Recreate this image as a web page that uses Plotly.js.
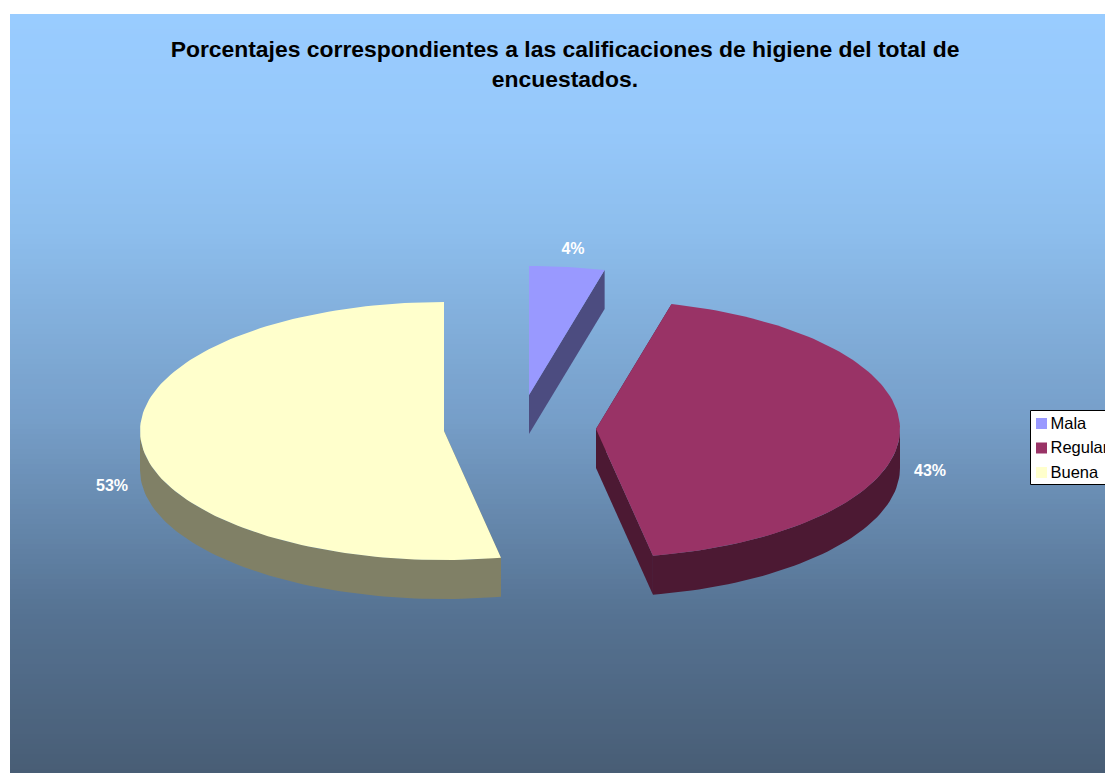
<!DOCTYPE html>
<html>
<head>
<meta charset="utf-8">
<script src="https://cdn.plot.ly/plotly-3.0.1.min.js"></script>
<style>html,body{margin:0;padding:0;background:#fff;overflow:hidden}</style>
</head>
<body>
<div id="chart" style="width:1105px;height:773px"></div>
<script>
// Survey shares
const categories = ['Mala', 'Regular', 'Buena'];
const values = [4, 43, 53];

// Slice colours: top face and side wall
const topColors = ['#9999FF', '#993366', '#FFFFCC'];
const wallColors = ['#4C4C80', '#4C1933', '#808066'];

// Pie geometry, in axis units (the axes run 1:1 with the page)
const centers = [[529, 395], [596, 429], [444, 431]];
const radiusX = 304;
const radiusY = 129;
const depth = 39;
const valueLabelPos = [[573, 250], [930, 472], [112, 487]];
const legendRows = [423.5, 448, 472.5];
const legendTextRows = [424.5, 449, 473.5];

// Vertical background ramp: [y, r, g, b]
const ramp = [
  [14, 153, 204, 255],
  [130, 150, 200, 250],
  [230, 141, 190, 237],
  [420, 118, 158, 200],
  [610, 86, 115, 147],
  [773, 72, 93, 117]
];

function rampColor(y) {
  let i = 0;
  while (i < ramp.length - 2 && y > ramp[i + 1][0]) i++;
  const a = ramp[i], b = ramp[i + 1];
  const t = (y - a[0]) / (b[0] - a[0]);
  const c = [1, 2, 3].map(k => Math.round(a[k] + (b[k] - a[k]) * t));
  return `rgb(${c[0]},${c[1]},${c[2]})`;
}

const shapes = [];
for (let y = 14; y < 773; y += 5) {
  shapes.push({
    type: 'rect', layer: 'below', xref: 'x', yref: 'y',
    x0: 10, x1: 1105, y0: y, y1: Math.min(y + 5, 773),
    fillcolor: rampColor(y + 2.5), line: {width: 0}
  });
}
// Legend frame
shapes.push({
  type: 'rect', layer: 'below', xref: 'x', yref: 'y',
  x0: 1030.5, x1: 1115, y0: 410.5, y1: 484.5,
  fillcolor: '#FFFFFF', line: {color: '#000000', width: 1}
});

// Point on the rim of a slice; angle is clockwise from twelve o'clock
function rim(c, deg, drop) {
  const a = deg * Math.PI / 180;
  return [c[0] + radiusX * Math.sin(a), c[1] - radiusY * Math.cos(a) + drop];
}

function arcPoints(c, from, to, drop) {
  const pts = [];
  const n = Math.max(2, Math.ceil(Math.abs(to - from) / 1.5));
  for (let i = 0; i <= n; i++) pts.push(rim(c, from + (to - from) * i / n, drop));
  return pts;
}

function polygon(pts, color) {
  return {
    type: 'scatter', mode: 'lines', fill: 'toself', fillcolor: color,
    x: pts.map(p => p[0]), y: pts.map(p => p[1]),
    line: {width: 0, color: color}, hoverinfo: 'skip', showlegend: false
  };
}

const total = values.reduce((s, v) => s + v, 0);
const traces = [];
let cursor = 0;
values.forEach((v, i) => {
  const from = cursor * 360 / total;
  const to = (cursor + v) * 360 / total;
  cursor += v;
  const c = centers[i];

  // Cut faces running from the hub to the rim
  [from, to].forEach(deg => {
    const r = rim(c, deg, 0);
    const rd = rim(c, deg, depth);
    traces.push(polygon([c, r, rd, [c[0], c[1] + depth]], wallColors[i]));
  });

  // Outer wall: only the front half of the rim faces the viewer
  const wallFrom = Math.max(from, 90);
  const wallTo = Math.min(to, 270);
  if (wallTo > wallFrom) {
    const upper = arcPoints(c, wallFrom, wallTo, 0);
    const lower = arcPoints(c, wallFrom, wallTo, depth).reverse();
    traces.push(polygon(upper.concat(lower), wallColors[i]));
  }

  // Top face
  traces.push(polygon([c].concat(arcPoints(c, from, to, 0)), topColors[i]));
});

// Percentage labels
traces.push({
  type: 'scatter', mode: 'text',
  x: valueLabelPos.map(p => p[0]), y: valueLabelPos.map(p => p[1]),
  text: values.map(v => v + '%'),
  textposition: 'middle center',
  textfont: {family: 'Liberation Sans, Arial, sans-serif', size: 16, color: '#FFFFFF', weight: 'bold'},
  hoverinfo: 'skip', showlegend: false
});

// Legend swatches and names
traces.push({
  type: 'scatter', mode: 'markers',
  x: categories.map(() => 1041.5), y: legendRows,
  marker: {symbol: 'square', size: 11, color: topColors, line: {width: 0}},
  hoverinfo: 'skip', showlegend: false
});
traces.push({
  type: 'scatter', mode: 'text',
  x: categories.map(() => 1050.5), y: legendTextRows,
  text: categories, textposition: 'middle right',
  textfont: {family: 'Liberation Sans, Arial, sans-serif', size: 16.5, color: '#000000'},
  hoverinfo: 'skip', showlegend: false
});

const layout = {
  width: 1105, height: 773,
  margin: {l: 0, r: 0, t: 0, b: 0},
  paper_bgcolor: '#FFFFFF', plot_bgcolor: 'rgba(0,0,0,0)',
  xaxis: {range: [0, 1105], visible: false, fixedrange: true},
  yaxis: {range: [773, 0], visible: false, fixedrange: true},
  showlegend: false,
  shapes: shapes,
  title: {
    text: 'Porcentajes correspondientes a las calificaciones de higiene del total de<br>encuestados.',
    x: 565 / 1105, xanchor: 'center', xref: 'paper',
    y: 1 - 57 / 773, yanchor: 'middle', yref: 'paper',
    font: {family: 'Liberation Sans, Arial, sans-serif', size: 22.9, color: '#000000', weight: 'bold'}
  }
};

Plotly.newPlot('chart', traces, layout, {displayModeBar: false, staticPlot: true});
</script>
</body>
</html>
